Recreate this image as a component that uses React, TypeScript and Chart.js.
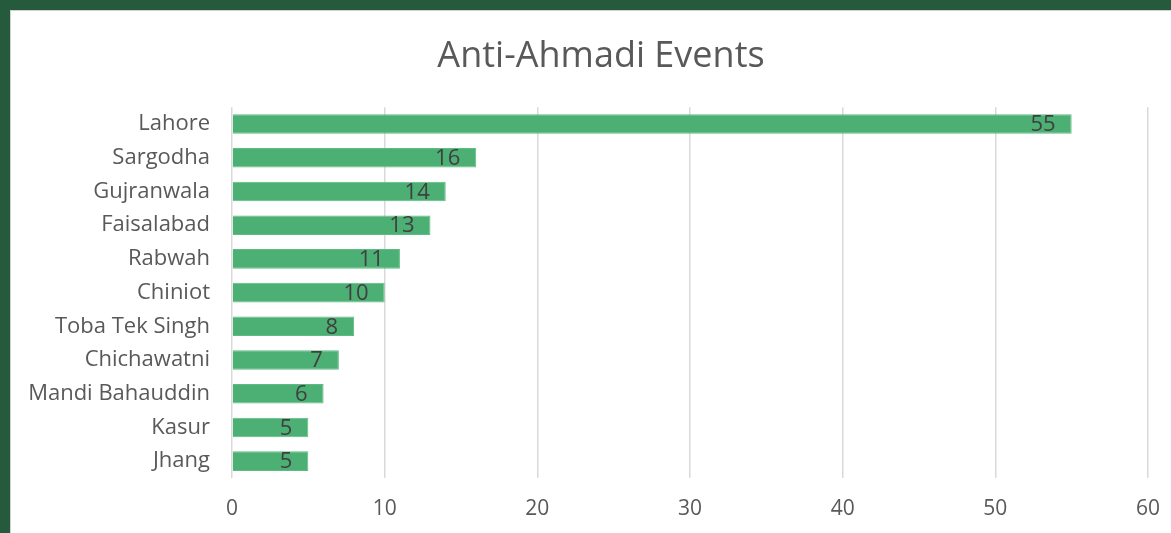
import React, { useEffect, useRef } from "react";
import { Chart, registerables } from "chart.js";

Chart.register(...registerables);

const title = "Anti-Ahmadi Events";
const cities = [
  "Lahore",
  "Sargodha",
  "Gujranwala",
  "Faisalabad",
  "Rabwah",
  "Chiniot",
  "Toba Tek Singh",
  "Chichawatni",
  "Mandi Bahauddin",
  "Kasur",
  "Jhang",
];
const events = [55, 16, 14, 13, 11, 10, 8, 7, 6, 5, 5];
const xMin = 0;
const xMax = 60;
const xStep = 10;

const FONT = "'Open Sans', 'Noto Sans', sans-serif";

const dataLabelPlugin = {
  id: "dataLabels",
  afterLayout(chart: any) {
    // center the title over the whole canvas, not the padded box
    if (chart.titleBlock) {
      chart.titleBlock.left = 0;
      chart.titleBlock.right = chart.width;
    }
  },
  afterDatasetsDraw(chart: any) {
    const ctx = chart.ctx;
    const meta = chart.getDatasetMeta(0);
    ctx.save();
    ctx.font = `22px ${FONT}`;
    ctx.fillStyle = "#404040";
    ctx.textAlign = "right";
    ctx.textBaseline = "middle";
    meta.data.forEach((bar: any, i: number) => {
      ctx.fillText(String(chart.data.datasets[0].data[i]), bar.x - 16, bar.y + 1);
    });
    ctx.restore();
  },
};

export default function App() {
  const ref = useRef<HTMLCanvasElement>(null);
  useEffect(() => {
    if (!ref.current) return;
    const chart = new Chart(ref.current, {
      type: "bar",
      data: {
        labels: cities,
        datasets: [
          {
            data: events,
            backgroundColor: "#4CAF73",
            borderColor: "#5DBB83",
            borderWidth: 1,
            categoryPercentage: 1,
            barPercentage: 0.58,
          },
        ],
      },
      options: {
        indexAxis: "y",
        animation: false,
        responsive: false,
        maintainAspectRatio: false,
        layout: { padding: { left: 0, right: 43, top: 24, bottom: 0 } },
        plugins: {
          legend: { display: false },
          tooltip: { enabled: false },
          title: {
            display: true,
            text: title,
            color: "#595959",
            font: { family: FONT, size: 36, weight: "normal" },
            padding: { top: 0, bottom: 29 },
          },
        },
        scales: {
          x: {
            min: xMin,
            max: xMax,
            ticks: {
              stepSize: xStep,
              color: "#595959",
              font: { family: FONT, size: 21 },
              padding: 18,
            },
            grid: { color: "#D9D9D9", lineWidth: 1.5, drawTicks: false },
            border: { display: false },
            afterFit: (s: any) => {
              s.height = 55;
            },
          },
          y: {
            ticks: {
              color: "#595959",
              font: { family: FONT, size: 22 },
              padding: 22,
            },
            grid: { display: false, drawTicks: false },
            border: { display: false },
            afterFit: (s: any) => {
              s.width = 221;
            },
          },
        },
      },
      plugins: [dataLabelPlugin],
    });
    return () => chart.destroy();
  }, []);

  return (
    <div
      style={{
        position: "fixed",
        left: 0,
        top: 0,
        width: 1171,
        height: 533,
        background: "#265A3C",
        overflow: "hidden",
      }}
    >
      <div
        style={{
          position: "absolute",
          left: 10,
          top: 10,
          right: 0,
          bottom: 0,
          background: "#FFFFFF",
          borderLeft: "1px solid #D0D0D0",
          borderTop: "1px solid #D0D0D0",
          overflow: "hidden",
        }}
      >
        <canvas ref={ref} width={1180} height={522} style={{ display: "block" }} />
      </div>
    </div>
  );
}
